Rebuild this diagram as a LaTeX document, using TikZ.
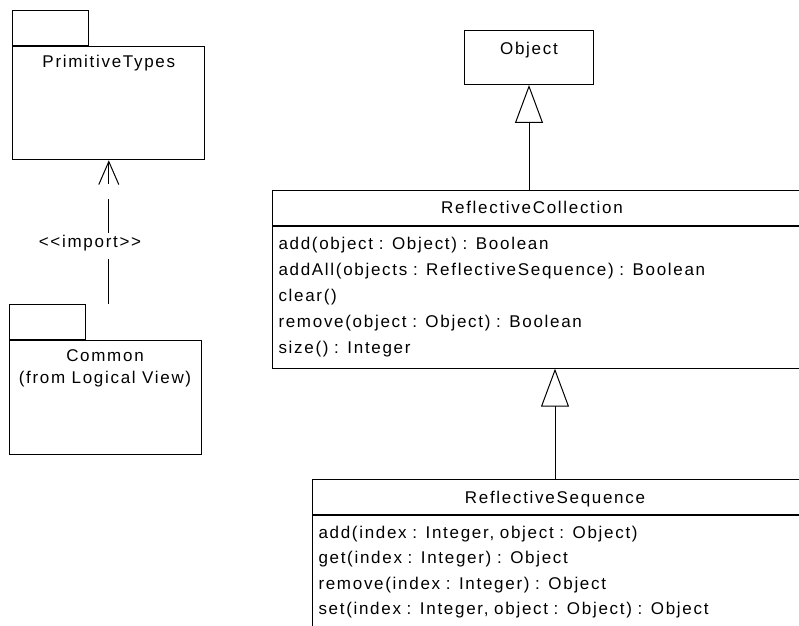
\documentclass[tikz,border=0pt]{standalone}
\usepackage{fontspec}
\setmainfont{Liberation Sans}[LetterSpace=10, Ligatures=TeXOff]
\usetikzlibrary{arrows.meta}
\usetikzlibrary{positioning}
\tikzset{
    pkgbody/.style={draw=black, anchor=north west, inner sep=0pt, minimum width=96pt},
    pkgtab/.style={draw=black, anchor=south west, inner sep=0pt, minimum width=38pt, minimum height=17.6pt},
    classframe/.style={draw=black, anchor=north west, inner sep=0pt, minimum width=280pt},
    classname/.style={anchor=base, inner sep=0pt},
    classops/.style={draw=black, anchor=north west, align=left, inner xsep=3pt, inner ysep=5.3pt, text width=274pt},
    inherit/.style={draw=black, -{Triangle[fill=white, length=19pt, width=14pt]}},
    import/.style={draw=black, dash pattern=on 22.5pt off 7.5pt, -{Straight Barb[length=11.5pt, width=10pt]}},
}

\begin{document}
\begin{tikzpicture}[x=0.5pt, y=-0.5pt, line width=0.5pt, font=\fontsize{8.5}{13}\selectfont]
\useasboundingbox (0,0) rectangle (799,626);
\clip (0,0) rectangle (799,626);
% packages
\node[pkgbody, text height=10.35pt, text depth=46.15pt] (prim) at (12.3,46.3) {PrimitiveTypes};
\node[pkgtab] (primtab) at (prim.north west) {};
\node[pkgbody, text height=10.6pt, text depth=46.65pt, font=\fontsize{8.5}{11.3}\selectfont] (common) at (8.5,339.5)
    {\begin{tabular}[t]{@{}c@{}}Common\\(from Logical View)\end{tabular}};
\node[pkgtab, minimum width=38.3pt, minimum height=17.2pt] (comtab) at (common.north west) {};
\draw[import] (prim.south |- comtab.north) -- (prim.south);
\node[fill=white, inner xsep=0pt, inner ysep=1.5pt, anchor=base] (importlbl) at (90,248) {<<import>>};
% classes
\node[draw=black, anchor=north west, inner sep=0pt, minimum width=64.5pt, text height=12pt, text depth=14.85pt] (obj) at (464,30.3) {Object};

\node[classframe, minimum height=17.65pt] (coll) at (272,190) {};
\node[classname] (collname) at (532,213.3) {ReflectiveCollection};
\node[classops, minimum height=70.7pt] (collops) at (coll.south west) {add(object : Object) : Boolean\\
    addAll(objects : ReflectiveSequence) : Boolean\\
    clear()\\
    remove(object : Object) : Boolean\\
    size() : Integer};

\node[classframe, minimum height=17.5pt] (seq) at (312,479) {};
\node[classname] (seqname) at (555,503.5) {ReflectiveSequence};
\node[classops, font=\fontsize{8.5}{12.7}\selectfont] (seqops) at (seq.south west) {add(index : Integer, object : Object)\\
    get(index : Integer) : Object\\
    remove(index : Integer) : Object\\
    set(index : Integer, object : Object) : Object};

\draw[inherit] (obj.south |- coll.north) -- (obj.south);
\draw[inherit] (seqname |- seq.north) -- (seqname |- collops.south);
\end{tikzpicture}
\end{document}
